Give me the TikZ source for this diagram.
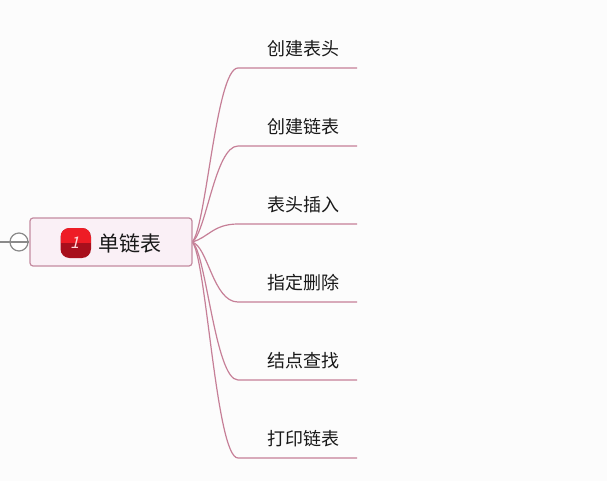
\documentclass[tikz,border=0pt]{standalone}
\usepackage{fontspec}
\setmainfont{Noto Sans CJK SC}[Scale=1]
\definecolor{linkc}{HTML}{C67F97}
\definecolor{rootfill}{HTML}{FAF0F6}
\definecolor{rootdraw}{HTML}{C48BA0}
\definecolor{collapse}{HTML}{8A8A8A}
\definecolor{icontop}{HTML}{EE1C25}
\definecolor{iconlow}{HTML}{A80F1C}
\tikzset{
  rootbox/.style={draw=rootdraw,fill=rootfill,line width=1.2pt,rounded corners=3pt,minimum width=162pt,minimum height=48pt,inner sep=0pt},
  leaf/.style={font=\fontsize{18pt}{20pt}\selectfont,text=black!90,inner sep=0pt,anchor=center},
  branch/.style={draw=linkc,line width=1.2pt},
  collapser/.style={circle,draw=collapse,fill=white,line width=1.2pt,minimum size=18pt,inner sep=0pt},
}
\begin{document}
\begin{tikzpicture}[x=1pt,y=-1pt]
\useasboundingbox (0,0) rectangle (607,481);
\fill[white!99!black] (0,0) rectangle (607,481);
\coordinate (hub) at (192,242);
\coordinate (stub) at (0,242);
\foreach \n/\y/\t in {a/68/创建表头,b/146/创建链表,c/224/表头插入,d/302/指定删除,e/380/结点查找,f/458/打印链表}{
  \coordinate (\n end) at (357,\y);
  \coordinate (\n knee) at (238,\y);
  \node[leaf] (\n) at (303,{\y-19.5}) {\t};
}
\draw[branch] (hub) .. controls (206,230) and (216,68) .. (aknee) -- (aend);
\draw[branch] (hub) .. controls (206,234) and (215,146) .. (bknee) -- (bend);
\draw[branch] (hub) .. controls (208,238) and (213,224) .. (cknee) -- (cend);
\draw[branch] (hub) .. controls (208,246) and (213,302) .. (dknee) -- (dend);
\draw[branch] (hub) .. controls (206,250) and (215,380) .. (eknee) -- (eend);
\draw[branch] (hub) .. controls (206,254) and (216,458) .. (fknee) -- (fend);
\node[rootbox] (root) at (111,242) {};
\node[collapser] (col) at (19,242) {};
\draw[collapse,line width=1.2pt] (stub) -- (col.west);
\draw[collapse,line width=1.2pt] (col.west) -- (col.east);
\node[font=\fontsize{21pt}{24pt}\selectfont,text=black!90,inner sep=0pt] (rootlabel) at (129.5,243) {单链表};
% priority icon
\fill[iconlow,rounded corners=9pt] (60.5,228) rectangle (91,258);
\begin{scope}
\clip[rounded corners=9pt] (60.5,228) rectangle (91,258);
\fill[icontop] (60.5,228) rectangle (91,243);
\end{scope}
\node[text=white!85!red,font=\fontsize{16pt}{16pt}\selectfont,inner sep=0pt,xslant=0.25] (pri) at (76,243) {1};
\end{tikzpicture}
\end{document}
